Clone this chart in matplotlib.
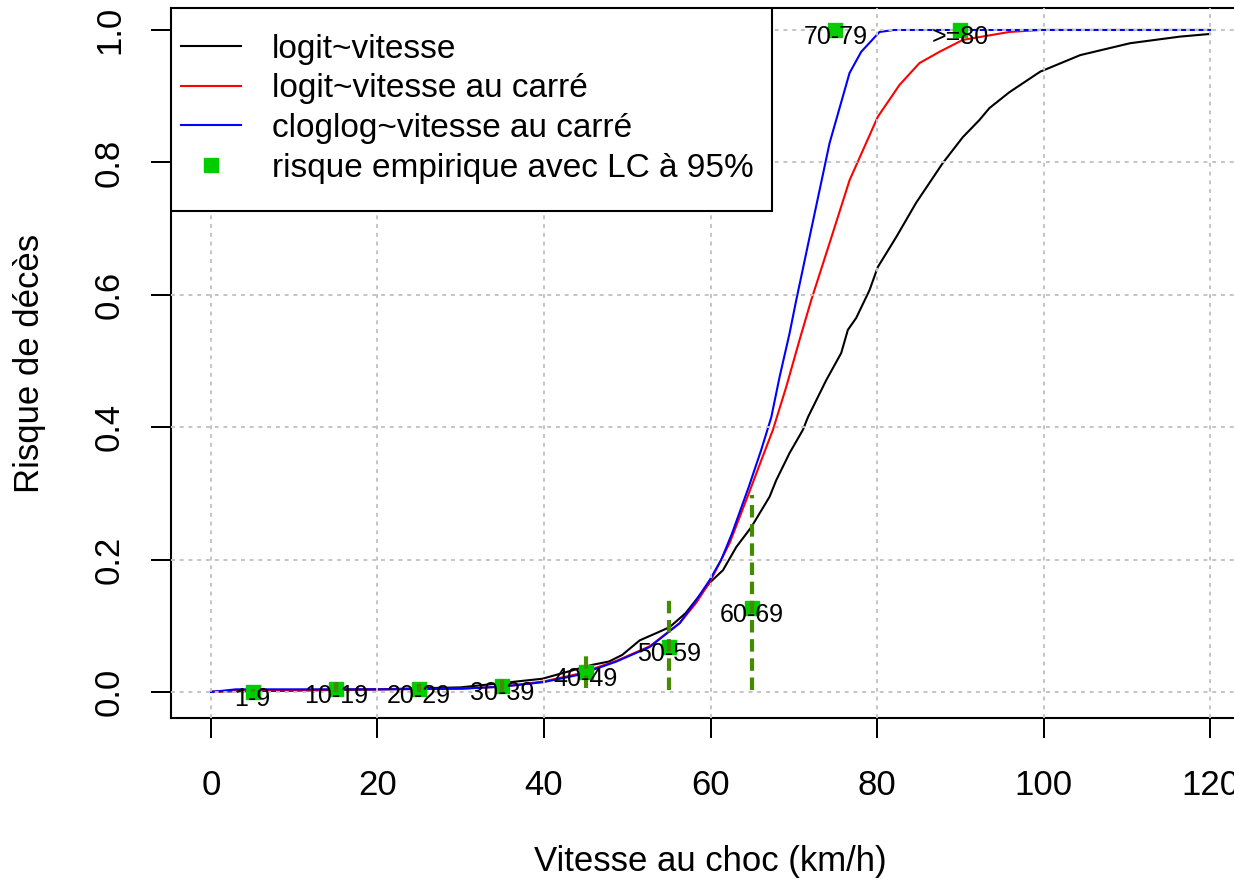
import matplotlib
matplotlib.use("Agg")
import matplotlib.pyplot as plt
from matplotlib.lines import Line2D
from matplotlib.patches import Rectangle

plt.rcParams['font.family'] = ['Liberation Sans', 'DejaVu Sans']

# logit ~ vitesse
x_logit = [0, 3, 10, 20, 30, 34.6, 39.8, 45.8, 47.8, 49.4, 51.5, 53.5, 55.1, 57, 59.9,
           61.5, 63.1, 64.9, 67.1, 67.9, 69.5, 71.1, 71.7, 73.9, 75.7, 76.5, 77.5, 79.1,
           80.1, 82.3, 84.7, 87.9, 90.3, 92.3, 93.5, 95.9, 99.6, 104.4, 110.4, 116.4, 120]
y_logit = [0.0005, 0.001, 0.002, 0.004, 0.007, 0.013, 0.020, 0.041, 0.046, 0.056, 0.078,
           0.089, 0.098, 0.119, 0.165, 0.184, 0.219, 0.249, 0.295, 0.32, 0.361, 0.396,
           0.415, 0.471, 0.512, 0.547, 0.565, 0.607, 0.642, 0.687, 0.739, 0.799, 0.838,
           0.864, 0.882, 0.906, 0.937, 0.962, 0.98, 0.99, 0.994]

# logit ~ vitesse au carre
x_logit2 = [0, 3, 10, 20, 30, 35, 40, 44, 48.7, 52.7, 56.3, 58.3, 60, 62.3, 64.6, 66.1,
            67.5, 69.1, 70.7, 72.1, 74.3, 76.7, 80.1, 82.7, 85.1, 87.5, 90.3, 95.9, 99.6, 120]
y_logit2 = [0, 0.002, 0.003, 0.004, 0.005, 0.008, 0.016, 0.027, 0.047, 0.069, 0.104, 0.135,
            0.168, 0.225, 0.30, 0.35, 0.396, 0.461, 0.532, 0.592, 0.678, 0.773, 0.869, 0.917,
            0.95, 0.967, 0.985, 0.997, 1.0, 1.0]

# cloglog ~ vitesse au carre
x_clog = [0, 3, 10, 20, 30, 35, 40, 44.2, 48.7, 52.7, 56.3, 58.3, 59.9, 61.3, 62.6, 64.6,
          66.1, 67.3, 68.3, 69.5, 70.3, 71.9, 74.3, 76.7, 78.1, 80.3, 82, 120]
y_clog = [0, 0.004, 0.004, 0.004, 0.005, 0.008, 0.015, 0.026, 0.046, 0.068, 0.104, 0.139,
          0.169, 0.2, 0.24, 0.31, 0.366, 0.415, 0.476, 0.542, 0.592, 0.687, 0.829, 0.935,
          0.967, 0.997, 1.0, 1.0]

# risque empirique par classe de vitesse
classes = ["1-9", "10-19", "20-29", "30-39", "40-49", "50-59", "60-69", "70-79", ">=80"]
x_emp = [5, 15, 25, 35, 45, 55, 65, 75, 90]
y_emp = [0.0, 0.0045, 0.0045, 0.009, 0.030, 0.068, 0.127, 1.0, 1.0]
lc_bas = [0.0, 0.0, 0.0, 0.0, 0.006, 0.003, 0.003, 1.0, 1.0]
lc_haut = [0.004, 0.015, 0.012, 0.02, 0.056, 0.144, 0.298, 1.0, 1.0]

W, H = 1234, 882
fig = plt.figure(figsize=(W / 100, H / 100), dpi=100)
ax = fig.add_axes([171 / W, 1 - 718 / H, (1250 - 171) / W, (718 - 8) / H])
ax.set_xlim(-4.8, 124.8)
ax.set_ylim(-0.0393, 1.0332)

vert = '#00cd00'
olive = '#458b00'

ax.plot(x_logit, y_logit, color='black', lw=1.5, zorder=2)
ax.plot(x_logit2, y_logit2, color='red', lw=1.5, zorder=2)
ax.plot(x_clog, y_clog, color='blue', lw=1.5, zorder=2)

ax.set_axisbelow(False)
ax.grid(True, color='#c4c4c4', lw=1.4, linestyle=(0, (2, 2.5)))

ax.plot(x_emp, y_emp, 's', color=vert, ms=10.5, zorder=3)
ax.vlines(x_emp, lc_bas, lc_haut, colors=olive, lw=3, linestyles=(0, (3, 1.6)), zorder=3.5)
for xi, yi, lab in zip(x_emp, y_emp, classes):
    ax.annotate(lab, (xi, yi), xytext=(0, -5), textcoords='offset points',
                ha='center', va='center', fontsize=18, zorder=4)

ax.set_xticks([0, 20, 40, 60, 80, 100, 120])
ax.set_yticks([0.0, 0.2, 0.4, 0.6, 0.8, 1.0])
ax.set_yticklabels(["0.0", "0.2", "0.4", "0.6", "0.8", "1.0"], rotation=90, va='center')
ax.tick_params(axis='both', length=14.4, width=1.44, labelsize=25, direction='out')
ax.tick_params(axis='x', pad=22)
ax.tick_params(axis='y', pad=18)
for s in ax.spines.values():
    s.set_linewidth(1.5)

fig.text(710 / W, 1 - 862 / H, "Vitesse au choc (km/h)", ha='center', va='center', fontsize=25)
fig.text(30 / W, 1 - 363 / H, "Risque de décès", ha='center', va='center',
         rotation=90, fontsize=25)

# cadre de la legende
box = Rectangle((0, (718 - 211) / 710), (772 - 171) / 1079, (211 - 8) / 710,
                transform=ax.transAxes, facecolor='white', edgecolor='black',
                lw=1.5, zorder=5)
ax.add_patch(box)

handles = [Line2D([], [], color='black', lw=1.5),
           Line2D([], [], color='red', lw=1.5),
           Line2D([], [], color='blue', lw=1.5),
           Line2D([], [], color=vert, marker='s', ls='none', ms=10.5)]
labels = ["logit~vitesse", "logit~vitesse au carré", "cloglog~vitesse au carré",
          "risque empirique avec LC à 95%"]
leg = ax.legend(handles, labels, loc='upper left', bbox_to_anchor=(0, 1 - 16 / 710),
                borderaxespad=0, fontsize=24, handlelength=1.8,
                handletextpad=0.94, labelspacing=0.26, borderpad=0.29, frameon=False)
leg.set_zorder(6)

fig.savefig("out.png", dpi=100)
